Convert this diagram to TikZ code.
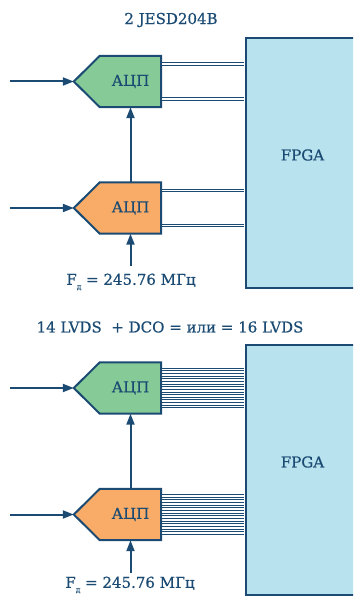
\documentclass[tikz,border=0pt]{standalone}
\usepackage{fontspec}
\setmainfont{DejaVu Serif}[FakeBold=0.5]
\usetikzlibrary{arrows.meta,backgrounds}

\definecolor{navy}{RGB}{27,75,115}
\definecolor{adcgreen}{RGB}{134,203,151}
\definecolor{adcorange}{RGB}{248,172,103}
\definecolor{fpgablue}{RGB}{184,226,238}

\newcommand{\fsample}{F\raisebox{-4.5pt}{\fontsize{7.5}{7.5}\selectfont д}}

\begin{document}
\begin{tikzpicture}[
x=1pt,
y=-1pt,
every node/.style={font=\fontsize{15}{17}\selectfont, text=navy},
adc/.style={minimum width=61pt, minimum height=51pt, inner sep=0pt},
outline/.style={draw=navy, line width=2pt, line join=miter},
sig/.style={draw=navy, line width=2pt, -{Triangle[length=11pt,width=8pt]}},
lane/.style={draw=navy, line width=1pt, double=white, double distance=1.7pt, shorten <=1pt, shorten >=1pt},
fpgabox/.style={outline, fill=fpgablue, minimum width=116pt, minimum height=250pt, anchor=north west, inner sep=0pt}
]
\clip (0,0) rectangle (353,596);

% upper diagram: JESD204B
\node (t1) at (171,20) {2 JESD204B};
\node[fpgabox] (fpga1) at (245,37) {};
\node (ftxt1) at (302.5,155) {FPGA};
\node[adc] (g1) at (130.5,81.5) {АЦП};
\node[adc] (o1) at (130.5,208) {АЦП};
\node (fq1) at (131,282) {\fsample{} = 245.76 МГц};

% lower diagram: LVDS
\node (t2) at (170,327) {14 LVDS \ + DCO = или = 16 LVDS};
\node[fpgabox] (fpga2) at (245,344) {};
\node (ftxt2) at (302.5,462) {FPGA};
\node[adc] (g2) at (130.5,388) {АЦП};
\node[adc] (o2) at (130.5,514.5) {АЦП};
\node (fq2) at (130,585) {\fsample{} = 245.76 МГц};

% converter outlines
\foreach \n/\c in {g1/adcgreen, o1/adcorange, g2/adcgreen, o2/adcorange}{
  \coordinate (\n tip) at ([xshift=-26pt]\n.west);
  \begin{scope}[on background layer]
    \draw[outline, fill=\c] (\n.north east) -- (\n.north west) -- (\n tip)
      -- (\n.south west) -- (\n.south east) -- cycle;
  \end{scope}
}

% inputs and clocks
\coordinate (in1) at (10,81.5);
\coordinate (in2) at (10,208);
\coordinate (in3) at (10,388);
\coordinate (in4) at (10,514.5);
\coordinate (clk1) at (130.5,266);
\coordinate (clk2) at (130.5,573);

\draw[sig] (in1) -- (g1tip);
\draw[sig] (in2) -- (o1tip);
\draw[sig] (o1.north) -- (g1.south);
\draw[sig] (clk1) -- (o1.south);

\draw[sig] (in3) -- (g2tip);
\draw[sig] (in4) -- (o2tip);
\draw[sig] (o2.north) -- (g2.south);
\draw[sig] (clk2) -- (o2.south);

% JESD204B lanes
\foreach \n in {g1,o1}{
  \draw[lane] ([yshift=17.5pt]\n.east) -- ([yshift=17.5pt]\n.east -| fpga1.west);
  \draw[lane] ([yshift=-17.5pt]\n.east) -- ([yshift=-17.5pt]\n.east -| fpga1.west);
}

% LVDS bundles
\foreach \n in {g2,o2}{
  \foreach \i [evaluate=\i as \off using \i*5.3-18.55] in {0,...,7}{
    \draw[lane] ([yshift=\off pt]\n.east) -- ([yshift=\off pt]\n.east -| fpga2.west);
  }
}

\end{tikzpicture}
\end{document}
